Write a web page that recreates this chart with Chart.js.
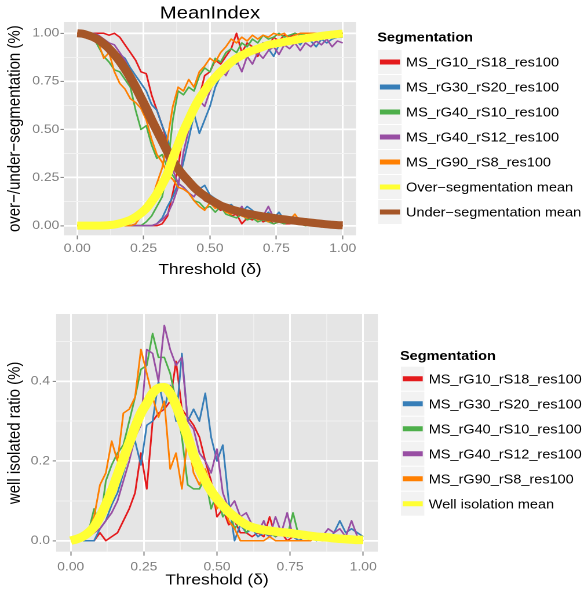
<!DOCTYPE html>
<html>
<head>
<meta charset="utf-8">
<script src="https://cdn.jsdelivr.net/npm/chart.js@4.4.1/dist/chart.umd.min.js"></script>
<style>
  html, body { margin:0; padding:0; background:#fff; }
  #page { position:relative; width:584px; height:599px; overflow:hidden; }
  /* the reference is stretched horizontally, so each panel is drawn narrow and scaled */
  .panel { position:absolute; left:0; width:504px; transform:scaleX(1.15873); transform-origin:0 0; }
  #p1 { top:0; height:290px; }
  #p2 { top:290px; height:309px; }
</style>
</head>
<body>
<div id="page">
  <div class="panel" id="p1"><canvas id="c1"></canvas></div>
  <div class="panel" id="p2"><canvas id="c2"></canvas></div>
</div>
<script>
// ── Data ──────────────────────────────────────────────────────
const THRESHOLDS = [0,0.02,0.04,0.06,0.08,0.10,0.12,0.14,0.16,0.18,0.20,0.22,0.24,0.26,0.28,0.30,0.32,0.34,0.36,0.38,0.40,
  0.42,0.44,0.46,0.48,0.50,0.52,0.54,0.56,0.58,0.60,0.62,0.64,0.66,0.68,0.70,0.72,0.74,0.76,0.78,0.80,
  0.82,0.84,0.86,0.88,0.90,0.92,0.94,0.96,0.98,1.00];

const SEGMENTATIONS = ['MS_rG10_rS18_res100','MS_rG30_rS20_res100','MS_rG40_rS10_res100','MS_rG40_rS12_res100','MS_rG90_rS8_res100'];

// under-segmentation (falling curves)
const UNDER_RG10 = [1,1,1,1,1,1,0.99,1,0.98,0.94, 0.9,0.86,0.8,0.79,0.68,0.6,0.52,0.43,0.36,0.31, 0.27,0.22,0.2,0.16,0.13,0.12,0.1,0.08,0.09,0.05,
  0.06,0.01,0.04,0.03,0.05,0.02,0.03,0.01,0.02,0.01, 0.01,0.02,0.01,0.01,0,0.01,0,0,0,0, 0];
const UNDER_RG30 = [1,1,1,1,0.99,0.96,0.95,0.9,0.89,0.87, 0.82,0.78,0.74,0.7,0.63,0.6,0.52,0.45,0.36,0.33, 0.28,0.25,0.22,0.19,0.21,0.16,0.14,0.12,0.1,0.11,
  0.08,0.07,0.1,0.08,0.05,0.04,0.07,0.04,0.07,0.03, 0.04,0.02,0.03,0.02,0.01,0.01,0.01,0,0.01,0, 0];
const UNDER_RG40A = [1,1,1,0.98,0.93,0.88,0.85,0.81,0.8,0.76, 0.72,0.6,0.5,0.52,0.42,0.35,0.37,0.3,0.26,0.22, 0.2,0.17,0.13,0.12,0.09,0.1,0.07,0.1,0.06,0.05,
  0.04,0.06,0.03,0.04,0.02,0.03,0.02,0.01,0.02,0.01, 0.02,0.01,0.01,0,0.01,0,0,0,0,0, 0];
const UNDER_RG40B = [1,1,1,1,0.99,0.97,0.95,0.94,0.9,0.86, 0.79,0.74,0.68,0.6,0.56,0.48,0.42,0.33,0.29,0.22, 0.2,0.17,0.15,0.2,0.14,0.12,0.11,0.09,0.1,0.07,
  0.06,0.1,0.05,0.06,0.04,0.05,0.1,0.04,0.03,0.02, 0.03,0.01,0.02,0.01,0.02,0.01,0.01,0,0.01,0, 0];
const UNDER_RG90 = [1,1,1,0.98,0.95,0.87,0.9,0.8,0.74,0.71, 0.66,0.64,0.61,0.55,0.45,0.37,0.33,0.27,0.24,0.2, 0.19,0.17,0.13,0.1,0.08,0.12,0.09,0.1,0.07,0.06,
  0.08,0.05,0.04,0.06,0.03,0.04,0.02,0.03,0.02,0.02, 0.03,0.06,0.02,0.01,0.02,0.01,0.01,0,0,0, 0];

// over-segmentation (rising curves)
const OVER_RG10 = [0,0,0,0,0,0,0,0,0,0, 0,0,0,0,0,0,0.01,0.05,0.17,0.3, 0.5,0.58,0.6,0.67,0.78,0.8,0.86,0.84,0.88,0.92,
  1,0.9,0.95,0.93,0.88,0.95,0.93,0.98,0.96,0.99, 0.98,1,0.99,1,1,1,1,1,1,1, 1];
const OVER_RG30 = [0,0,0,0,0,0,0,0,0,0, 0,0,0,0,0,0.01,0.04,0.1,0.15,0.22, 0.33,0.45,0.58,0.48,0.55,0.62,0.72,0.78,0.8,0.86,
  0.84,0.9,0.88,0.93,0.9,0.95,0.92,0.88,0.94,0.96, 0.95,0.97,0.94,0.98,0.96,0.93,0.97,0.95,0.97,0.98, 0.98];
const OVER_RG40A = [0,0,0,0,0,0,0,0,0,0, 0,0,0,0.02,0.05,0.1,0.15,0.3,0.55,0.7, 0.68,0.72,0.7,0.78,0.82,0.8,0.87,0.85,0.9,0.92,
  0.9,0.95,0.93,0.97,0.95,0.99,0.97,0.98,1,0.98, 0.99,1,0.99,1,1,1,0.99,1,1,1, 1];
const OVER_RG40B = [0,0,0,0,0,0,0,0,0,0, 0,0,0,0,0,0.01,0.03,0.06,0.12,0.2, 0.38,0.5,0.6,0.65,0.62,0.7,0.76,0.82,0.78,0.84,
  0.86,0.8,0.88,0.84,0.9,0.87,0.91,0.93,0.89,0.94, 0.92,0.95,0.91,0.95,0.93,0.96,0.94,0.97,0.93,0.96, 0.95];
const OVER_RG90 = [0,0,0,0,0,0,0,0,0,0, 0,0.01,0.05,0.1,0.13,0.22,0.3,0.45,0.62,0.72, 0.7,0.76,0.72,0.8,0.83,0.87,0.85,0.9,0.93,0.97,
  0.95,0.98,0.96,0.99,0.97,0.99,0.98,1,0.99,1, 0.97,0.99,1,1,1,1,1,1,1,1, 1];

const OVER_MEAN  = [0,0,0,0,0,0.001,0.003,0.006,0.012,0.02, 0.03,0.045,0.065,0.09,0.125,0.165,0.215,0.27,0.35,0.42, 0.49,0.55,0.61,0.66,0.7,0.74,0.77,0.8,0.825,0.85,
  0.87,0.885,0.9,0.91,0.92,0.93,0.94,0.945,0.95,0.955, 0.96,0.965,0.97,0.974,0.978,0.982,0.986,0.99,0.993,0.996, 0.998];
const UNDER_MEAN = [1,0.998,0.99,0.98,0.965,0.945,0.92,0.89,0.855,0.815, 0.77,0.72,0.665,0.61,0.55,0.495,0.44,0.385,0.335,0.295, 0.26,0.23,0.2,0.175,0.155,0.135,0.12,0.105,0.095,0.085,
  0.077,0.07,0.063,0.058,0.053,0.048,0.044,0.04,0.036,0.033, 0.029,0.026,0.022,0.019,0.016,0.013,0.01,0.007,0.005,0.003, 0.002];

// well isolated ratio
const ISO_RG10 = [0,0,0,0,0,0.02,0,0.01,0.02,0.05, 0.08,0.12,0.22,0.13,0.3,0.32,0.33,0.35,0.45,0.33, 0.31,0.29,0.26,0.2,0.15,0.06,0.08,0.04,0.05,0.02,
  0.02,0.01,0.02,0.01,0.06,0.01,0.02,0,0.01,0, 0.01,0,0.01,0,0,0,0,0,0,0, 0];
const ISO_RG30 = [0,0,0,0,0,0.03,0.05,0.09,0.12,0.17, 0.22,0.25,0.19,0.29,0.3,0.4,0.33,0.39,0.3,0.47, 0.3,0.33,0.3,0.37,0.26,0.2,0.24,0.1,0,0.04,
  0.02,0.03,0.01,0.02,0.01,0.02,0.02,0.01,0.01,0, 0.01,0.01,0,0.01,0,0.02,0.05,0.02,0.03,0.02, 0.01];
const ISO_RG40A = [0,0,0,0.02,0.08,0.04,0.15,0.19,0.22,0.24, 0.3,0.36,0.43,0.44,0.52,0.46,0.46,0.42,0.35,0.26, 0.14,0.13,0.13,0.16,0.08,0.12,0.06,0.08,0.03,0.05,
  0.02,0.04,0.02,0.03,0.02,0.01,0.03,0.01,0.07,0.01, 0.02,0.01,0.01,0,0,0,0,0,0,0, 0];
const ISO_RG40B = [0,0,0,0.01,0.02,0.03,0.05,0.07,0.1,0.15, 0.2,0.26,0.29,0.48,0.47,0.4,0.54,0.48,0.44,0.46, 0.3,0.28,0.22,0.2,0.17,0.23,0.12,0.08,0.1,0.06,
  0.07,0.04,0.02,0.05,0.01,0.06,0.02,0.07,0.01,0.02, 0.01,0.02,0.01,0.01,0.03,0.02,0.03,0.01,0.05,0.01, 0];
const ISO_RG90 = [0,0,0,0.02,0.06,0.14,0.17,0.25,0.2,0.32, 0.33,0.36,0.48,0.42,0.36,0.31,0.35,0.18,0.22,0.13, 0.26,0.17,0.14,0.18,0.13,0.08,0.1,0.05,0.03,0,
  0,0,0,0,0.01,0,0,0,0,0, 0,0,0.01,0,0,0,0,0,0,0, 0];
const ISO_MEAN = [0,0.004,0.01,0.02,0.035,0.06,0.09,0.125,0.165,0.205, 0.245,0.285,0.32,0.345,0.37,0.383,0.385,0.37,0.34,0.3, 0.26,0.215,0.18,0.15,0.125,0.105,0.088,0.072,0.06,0.049,
  0.04,0.034,0.03,0.027,0.025,0.023,0.021,0.02,0.018,0.016, 0.014,0.012,0.01,0.009,0.008,0.006,0.005,0.004,0.003,0.002, 0.002];

// ticks / grid
const X_GRID  = [0,0.125,0.25,0.375,0.5,0.625,0.75,0.875,1];
const X_MAJOR = [0,0.25,0.5,0.75,1];
const Y1_GRID  = [0,0.125,0.25,0.375,0.5,0.625,0.75,0.875,1];
const Y1_MAJOR = [0,0.25,0.5,0.75,1];
const Y2_GRID  = [0,0.1,0.2,0.3,0.4,0.5];
const Y2_MAJOR = [0,0.2,0.4];

// ── Style ─────────────────────────────────────────────────────
const FONT   = "'Liberation Sans', Arial, Helvetica, sans-serif";
const COLORS = ['#E41A1C','#377EB8','#4DAF4A','#984EA3','#FF7F00'];
const YELLOW = '#FFFF33', BROWN = '#A65628';
const TICK_GREY = '#7F7F7F';

function pts(values) { return THRESHOLDS.map((t, i) => ({ x: t, y: values[i] })); }

function line(values, color, width, order, smooth) {
  return { data: pts(values), borderColor: color, backgroundColor: color, borderWidth: width,
    pointRadius: 0, pointHoverRadius: 0, fill: false, order,
    tension: smooth ? 0.4 : 0, cubicInterpolationMode: smooth ? 'monotone' : 'default',
    borderCapStyle: 'butt', borderJoinStyle: 'round' };
}

function axis(cfg) {
  return {
    type: 'linear', min: cfg.min, max: cfg.max,
    afterBuildTicks: s => { s.ticks = cfg.grid.map(v => ({ value: v })); },
    afterFit: s => { if (cfg.width) s.width = cfg.width; if (cfg.height) s.height = cfg.height; },
    ticks: { autoSkip: false, maxRotation: 0, color: TICK_GREY, padding: cfg.pad,
      font: { family: FONT, size: 12 },
      callback: v => cfg.major.includes(v) ? v.toFixed(cfg.digits) : '' },
    grid: {
      color: c => cfg.major.includes(c.tick.value) ? '#FFFFFF' : '#F2F2F2',
      lineWidth: c => cfg.major.includes(c.tick.value) ? cfg.lw : cfg.lw / 2,
      tickColor: c => cfg.major.includes(c.tick.value) ? TICK_GREY : 'rgba(0,0,0,0)',
      tickLength: cfg.tl, tickWidth: 1
    },
    border: { display: false },
    title: { display: true, text: cfg.title, color: '#000', font: { family: FONT, size: 15 }, padding: cfg.titlePad }
  };
}

const panelBg = {
  id: 'panelBg',
  beforeDraw(chart) {
    const { ctx, chartArea: a } = chart;
    ctx.save();
    ctx.fillStyle = '#E5E5E5';
    ctx.fillRect(a.left, a.top, a.right - a.left, a.bottom - a.top);
    ctx.restore();
  }
};

function plotTitle(text) {
  return {
    id: 'plotTitle',
    afterDraw(chart) {
      const { ctx, chartArea: a } = chart;
      ctx.save();
      ctx.fillStyle = '#000';
      ctx.font = `17.5px ${FONT}`;
      ctx.textAlign = 'center';
      ctx.textBaseline = 'alphabetic';
      ctx.fillText(text, (a.left + a.right) / 2, 18.3);
      ctx.restore();
    }
  };
}

// ggplot-like legend: grey key squares with a thick coloured bar
function ggLegend(cfg) {
  return {
    id: 'ggLegend',
    afterDraw(chart) {
      const ctx = chart.ctx;
      ctx.save();
      ctx.textBaseline = 'alphabetic';
      ctx.fillStyle = '#000';
      ctx.font = `bold 12.5px ${FONT}`;
      ctx.fillText('Segmentation', cfg.x, cfg.titleY);
      cfg.labels.forEach((label, i) => {
        const top = cfg.keyTop + i * 25;
        ctx.fillStyle = '#F2F2F2';
        ctx.fillRect(cfg.x + 0.8, top, 20.2, 24);
        ctx.strokeStyle = cfg.colors[i];
        ctx.lineWidth = 5;
        ctx.beginPath();
        ctx.moveTo(cfg.x + 2.3, top + 12);
        ctx.lineTo(cfg.x + 19.6, top + 12);
        ctx.stroke();
        ctx.fillStyle = '#000';
        ctx.font = `12.5px ${FONT}`;
        ctx.fillText(label, cfg.x + 24.8, top + 16.7);
      });
      ctx.restore();
    }
  };
}

function options(padding, x, y) {
  return {
    responsive: true, maintainAspectRatio: false, animation: false, devicePixelRatio: 2,
    layout: { padding },
    plugins: { legend: { display: false }, tooltip: { enabled: false } },
    scales: { x, y }
  };
}

// ── Top: over / under segmentation ────────────────────────────
const UNDER = [UNDER_RG10, UNDER_RG30, UNDER_RG40A, UNDER_RG40B, UNDER_RG90];
const OVER  = [OVER_RG10, OVER_RG30, OVER_RG40A, OVER_RG40B, OVER_RG90];

new Chart(document.getElementById('c1'), {
  type: 'line',
  data: { datasets: [
    line(OVER_MEAN, YELLOW, 8, 0, true),
    line(UNDER_MEAN, BROWN, 8, 1, true),
    ...UNDER.map((v, i) => line(v, COLORS[i], 1.5, 10 - i, false)),
    ...OVER.map((v, i) => line(v, COLORS[i], 1.5, 10 - i, false)),
  ]},
  options: options({ top: 22, left: 0, right: 196.8, bottom: 11 },
    axis({ min: -0.05, max: 1.05, grid: X_GRID, major: X_MAJOR, digits: 2, height: 43.7, tl: 4, pad: 2.2, lw: 1.5,
           title: 'Threshold (δ)', titlePad: 0 }),
    axis({ min: -0.05, max: 1.0587, grid: Y1_GRID, major: Y1_MAJOR, digits: 2, width: 55.2, tl: 3, pad: 1, lw: 1.8,
           title: 'over\u2212/under\u2212segmentation (%)', titlePad: { top: 4, bottom: 0 } })),
  plugins: [panelBg, plotTitle('MeanIndex'),
    ggLegend({ x: 325.6, titleY: 41.7, keyTop: 50,
      labels: [...SEGMENTATIONS, 'Over\u2212segmentation mean', 'Under\u2212segmentation mean'],
      colors: [...COLORS, YELLOW, BROWN] })]
});

// ── Bottom: well isolated ratio ───────────────────────────────
const ISO = [ISO_RG10, ISO_RG30, ISO_RG40A, ISO_RG40B, ISO_RG90];

new Chart(document.getElementById('c2'), {
  type: 'line',
  data: { datasets: [
    line(ISO_MEAN, YELLOW, 8.5, 0, true),
    ...ISO.map((v, i) => line(v, COLORS[i], 1.5, 10 - i, false)),
  ]},
  options: options({ top: 24, left: 0, right: 177.9, bottom: 9.5 },
    axis({ min: -0.05, max: 1.05, grid: X_GRID, major: X_MAJOR, digits: 2, height: 37.8, tl: 4, pad: 4.2, lw: 1.5,
           title: 'Threshold (δ)', titlePad: 0 }),
    axis({ min: -0.0276, max: 0.569, grid: Y2_GRID, major: Y2_MAJOR, digits: 1, width: 48.4, tl: 3, pad: 2.2, lw: 1.8,
           title: 'well isolated ratio (%)', titlePad: { top: 4, bottom: 0 } })),
  plugins: [panelBg,
    ggLegend({ x: 345.2, titleY: 70, keyTop: 76.7,
      labels: [...SEGMENTATIONS, 'Well isolation mean'],
      colors: [...COLORS, YELLOW] })]
});
</script>
</body>
</html>
